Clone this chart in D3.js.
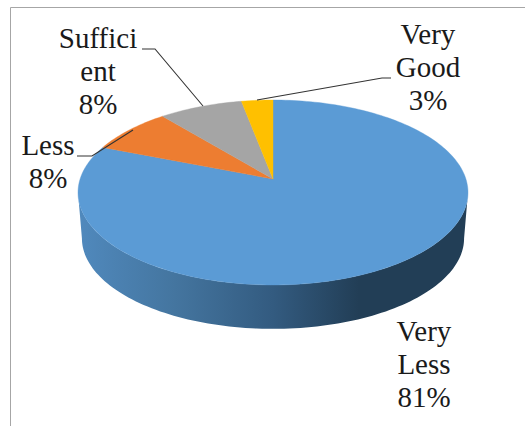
<!DOCTYPE html>
<html>
<head>
<meta charset="utf-8">
<script src="https://cdnjs.cloudflare.com/ajax/libs/d3/7.8.5/d3.min.js"></script>
<style>
  html, body { margin: 0; padding: 0; background: #fff; }
  svg { display: block; }
</style>
</head>
<body>
<script>
const width = 525;
const height = 426;

// chart values
const categories = ["Very Less", "Less", "Sufficient", "Very Good"];
const values = [81, 8, 8, 3];
const sliceColors = ["#5b9bd5", "#ed7d31", "#a5a5a5", "#ffc000"];

// label layout, each row is one line of text
const labelLines = [
  [["Very", 424, 341], ["Less", 424, 374], ["81%", 424, 407]],
  [["Less", 48, 155], ["8%", 48, 188]],
  [["Suffici", 98, 48], ["ent", 98, 81], ["8%", 98, 114]],
  [["Very", 428, 44], ["Good", 428, 77], ["3%", 428, 110]]
];
const leaders = [
  null,
  [[77, 156], [92, 156], [133, 130]],
  [[142, 49], [155, 49], [203, 106]],
  [[257, 100], [382, 78], [391, 78]]
];

const color = d3.scaleOrdinal(categories, sliceColors);

// perspective of the tilted disc: pie angle -> screen point
const cx = 273;
const apexY = 179;
const k = 0.146;
const A = 192.9;
const B = 90.5;
const wallDrop = 46;
const baseScale = 0.98;

function project(a, s, dy) {
  const u = Math.sin(a);
  const v = Math.cos(a);
  const d = 1 + k * v;
  return [cx + s * A * u / d, apexY + dy - s * B * v / d];
}

function sample(a0, a1, s, dy) {
  const n = Math.max(2, Math.ceil(Math.abs(a1 - a0) * 40));
  return d3.range(n + 1).map(i => project(a0 + (a1 - a0) * i / n, s, dy));
}

const svg = d3.select("body")
  .append("svg")
  .attr("width", width)
  .attr("height", height);

// frame, only top and left are inside the crop
svg.append("path")
  .attr("d", "M10.5," + height + "V7.5H" + width)
  .attr("fill", "none")
  .attr("stroke", "#a6a6a6")
  .attr("stroke-width", 1);

const grad = svg.append("defs")
  .append("linearGradient")
  .attr("id", "wall")
  .attr("gradientUnits", "userSpaceOnUse")
  .attr("x1", 78).attr("y1", 0)
  .attr("x2", 468).attr("y2", 0);

[[0, "#5089bd"], [0.25, "#44759f"], [0.5, "#335b80"], [0.72, "#223e56"], [1, "#223e56"]]
  .forEach(function(s) {
    grad.append("stop").attr("offset", s[0]).attr("stop-color", s[1]);
  });

const line = d3.line();

// side wall
const a0 = Math.acos(-k);
const a1 = 2 * Math.PI - a0;
const wallPts = sample(a0, a1, 1, 0).concat(sample(a1, a0, baseScale, wallDrop));

svg.append("path")
  .attr("d", line(wallPts) + "Z")
  .attr("fill", "url(#wall)");

// top face
const arcs = d3.pie().sort(null)(values);

arcs.forEach(function(d, i) {
  const pts = [[cx, apexY]].concat(sample(d.startAngle, d.endAngle, 1, 0));
  svg.append("path")
    .attr("d", line(pts) + "Z")
    .attr("fill", color(categories[i]))
    .attr("stroke", color(categories[i]))
    .attr("stroke-width", 0.4);
});

// leader lines
leaders.forEach(function(l) {
  if (!l) return;
  svg.append("path")
    .attr("d", line(l))
    .attr("fill", "none")
    .attr("stroke", "#333")
    .attr("stroke-width", 1.1);
});

// labels, centred by hand from the measured width
labelLines.forEach(function(rows) {
  rows.forEach(function(r) {
    const t = svg.append("text")
      .attr("y", r[2])
      .style("font-family", "'Liberation Serif'")
      .style("font-size", "29px")
      .style("fill", "#1a1a1a")
      .text(r[0]);
    t.attr("x", r[1] - t.node().getComputedTextLength() / 2);
  });
});
</script>
</body>
</html>
